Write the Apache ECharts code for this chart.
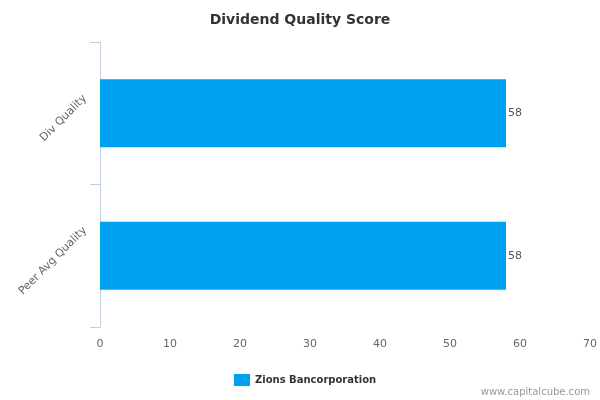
<!DOCTYPE html>
<html>
<head>
<meta charset="utf-8">
<script src="https://cdn.jsdelivr.net/npm/echarts@6/dist/echarts.min.js"></script>
<style>html,body{margin:0;padding:0;background:#fff;}#chart{width:600px;height:400px;}</style>
</head>
<body>
<div id="chart"></div>
<script>
const categories = ['Div Quality', 'Peer Avg Quality'];
const seriesName = 'Zions Bancorporation';
const values = [58, 58];
const xTicks = { min: 0, max: 70, interval: 10 };

// Rotated category labels are centred on their category (as in the reference):
// per-label padding computed from the measured label width.
const LABEL_FONT = '11px "DejaVu Sans"';
const LABEL_MARGIN = 12;
const GRID_LEFT = 100;
const END_X = 85;      // screen x of the label's right end
const DROP = 5;        // label centre sits a little below the category centre
const ctx = document.createElement('canvas').getContext('2d');
ctx.font = LABEL_FONT;
const rich = {};
categories.forEach((c, i) => {
  const L = ctx.measureText(c).width;
  const ax = GRID_LEFT - LABEL_MARGIN;
  const dx = END_X - ax - 0.35355 * L;
  const lx = 0.70711 * (dx - DROP);
  const ly = 0.70711 * (dx + DROP);
  const pr = Math.max(0, -2 * lx), pl = Math.max(0, 2 * lx);
  const pb = Math.max(0, -2 * ly), pt = Math.max(0, 2 * ly);
  rich['c' + i] = { padding: [pt, pr, pb, pl], color: '#666666', fontSize: 11, fontFamily: 'DejaVu Sans' };
});

const chart = echarts.init(document.getElementById('chart'), null, { renderer: 'canvas' });
chart.setOption({
  animation: false,
  backgroundColor: '#ffffff',
  textStyle: { fontFamily: 'DejaVu Sans' },
  title: {
    text: 'Dividend Quality Score',
    left: 'center',
    top: 8,
    textStyle: { fontFamily: 'DejaVu Sans', fontSize: 14, fontWeight: 'bold', color: '#333333' }
  },
  legend: {
    data: [seriesName],
    left: 234,
    top: 374,
    padding: 0,
    itemWidth: 16,
    itemHeight: 12,
    icon: 'rect',
    itemGap: 6,
    textStyle: { fontFamily: 'DejaVu Sans', fontSize: 10, fontWeight: 'bold', color: '#333333' }
  },
  graphic: [{
    type: 'text',
    right: 10,
    top: 387,
    style: { text: 'www.capitalcube.com', font: '10px DejaVu Sans', fill: '#999999' }
  }],
  grid: { left: GRID_LEFT, right: 10, top: 42, bottom: 73, containLabel: false },
  xAxis: {
    type: 'value',
    min: xTicks.min, max: xTicks.max, interval: xTicks.interval,
    axisLine: { show: false },
    axisTick: { show: false },
    splitLine: { show: false },
    axisLabel: { color: '#666666', fontSize: 11, fontFamily: 'DejaVu Sans', margin: 12 }
  },
  yAxis: {
    type: 'category',
    data: categories,
    inverse: true,
    axisLine: { show: true, lineStyle: { color: '#C0D0E0', width: 1 } },
    axisTick: { show: true, length: 10, lineStyle: { color: '#C0D0E0' } },
    axisLabel: {
      rotate: 45, align: 'center', verticalAlign: 'middle',
      color: '#666666', fontSize: 11, fontFamily: 'DejaVu Sans', margin: LABEL_MARGIN,
      formatter: (v, i) => '{c' + i + '|' + v + '}',
      rich: rich
    }
  },
  series: [{
    name: seriesName,
    type: 'bar',
    data: values,
    barWidth: 68,
    itemStyle: { color: '#00A0F0' },
    label: { show: true, position: 'right', distance: 2, color: '#555555', fontSize: 11, fontFamily: 'DejaVu Sans' }
  }]
});
</script>
</body>
</html>
